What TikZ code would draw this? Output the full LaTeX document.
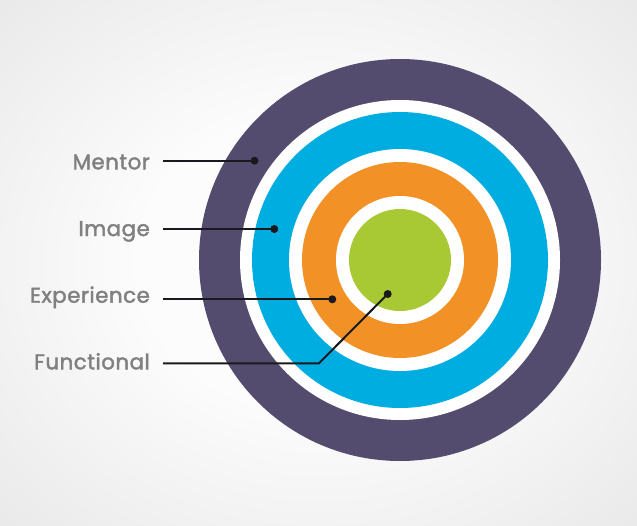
\documentclass[tikz,border=0pt]{standalone}
\usepackage{fontspec}
\setmainfont{Poppins}
\newfontfamily\labelfont{Poppins}[FakeBold=1.9, LetterSpace=2.5]
\definecolor{bgcenter}{RGB}{252,252,252}
\definecolor{bgedge}{RGB}{221,221,221}
\definecolor{bgcorner}{RGB}{212,212,212}
\pgfdeclareradialshading{bgshade}{\pgfpointorigin}{color(0bp)=(bgcenter); color(14bp)=(bgcenter); color(50bp)=(bgedge); color(72bp)=(bgcorner)}
\definecolor{ringpurple}{RGB}{84,76,110}
\definecolor{ringblue}{RGB}{0,173,224}
\definecolor{ringorange}{RGB}{242,146,38}
\definecolor{ringgreen}{RGB}{169,201,52}
\definecolor{labelgray}{RGB}{128,128,128}
\definecolor{linecol}{RGB}{26,26,30}
\tikzset{
  lbl/.style={anchor=base east, inner sep=0pt, text=labelgray, font=\labelfont\fontsize{21.3}{24}\selectfont},
  dot/.style={circle, fill=linecol, inner sep=0pt, minimum size=8pt},
  leader/.style={draw=linecol, line width=2pt},
}
\begin{document}
\begin{tikzpicture}[x=1pt,y=-1pt]
\useasboundingbox (0,0) rectangle (637,525);
\shade[shading=bgshade] (0,0) rectangle (637,525);
% rings
\fill[ringpurple] (400,260) circle (201);
\fill[white] (400,260) circle (160);
\fill[ringblue] (400,260) circle (148);
\fill[white] (400,260) circle (111);
\fill[ringorange] (400,260) circle (98);
\fill[white] (400,260) circle (64);
\fill[ringgreen] (400,260) circle (51);
% labels
\node[lbl] (lm) at (150,169.3) {Mentor};
\node[lbl] (li) at (150,236) {Image};
\node[lbl] (le) at (150,302.7) {Experience};
\node[lbl] (lf) at (150,369.3) {Functional};
% leader starts
\coordinate (sm) at (163,160.7);
\coordinate (si) at (163,229);
\coordinate (se) at (163,299.3);
\coordinate (sf) at (163,363.3);
\coordinate (bf) at (319,363.3);
% dots
\node[dot] (dm) at (254.5,160.7) {};
\node[dot] (di) at (274.3,229) {};
\node[dot] (de) at (332.3,299.3) {};
\node[dot] (df) at (387.7,294) {};
% leaders
\draw[leader] (sm) -- (dm.center);
\draw[leader] (si) -- (di.center);
\draw[leader] (se) -- (de.center);
\draw[leader] (sf) -- (bf) -- (df.center);
\end{tikzpicture}
\end{document}
